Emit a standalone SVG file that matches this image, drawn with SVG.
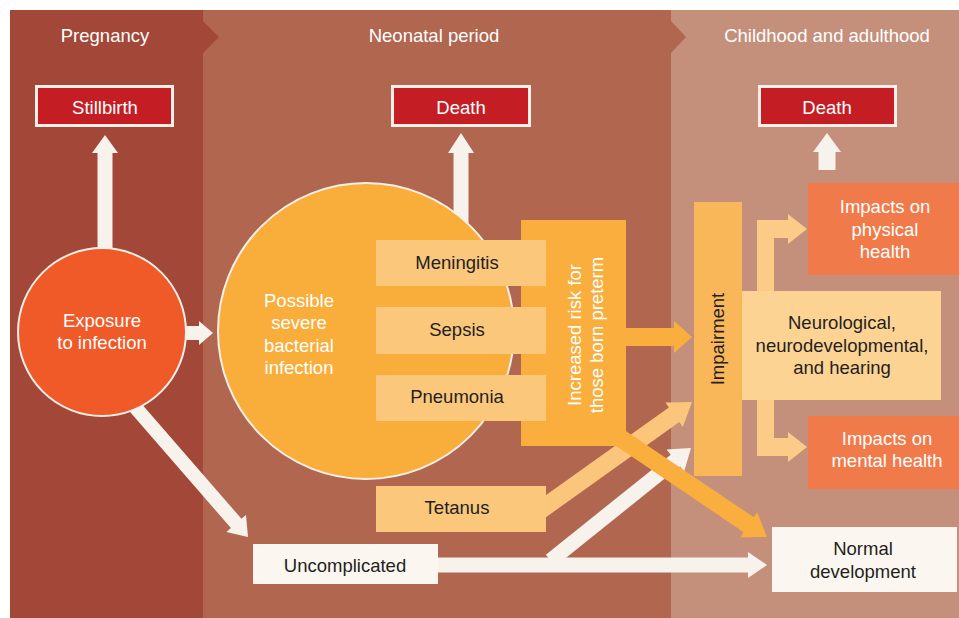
<svg xmlns="http://www.w3.org/2000/svg" width="959" height="618" viewBox="0 0 959 618">
<defs>
<style>
text{font-family:"Liberation Sans",Arial,sans-serif;font-size:18.5px;text-anchor:middle}
.hdr{fill:#FFFFFF}
.wt{fill:#FFFFFF}
.dk{fill:#231F20}
.red{fill:#C41E24;stroke:#F7EFE8;stroke-width:3}
.lbox{fill:#FBC77B}
.wbox{fill:#FBF7F0}
.imp{fill:#F07A4A}
.awhite{fill:#F8F2EC}
.aorange{fill:#F9AE3D}
.alight{fill:#FBC57C}
.abranch{fill:#FCCB87}
</style>
</defs>
<rect width="959" height="618" fill="#FFFFFF"/>
<g id="background">
<rect x="671" y="10" width="288" height="608" fill="#C5907B"/>
<polygon points="203,10 671,10 671,21 686,37 671,53 671,618 203,618" fill="#B0664F"/>
<polygon points="10,10 203,10 203,21 219,37 203,53 203,618 10,618" fill="#A34738"/>
<text class="hdr" x="105" y="42">Pregnancy</text>
<text class="hdr" x="434" y="42">Neonatal period</text>
<text class="hdr" x="827" y="42">Childhood and adulthood</text>
</g>
<g id="connectors">
<polygon class="awhite" transform="translate(248,537) rotate(49)" points="0,0 -18,-13 -18,-7 -175,-7 -175,7 -18,7 -18,13"/>
<polygon class="awhite" transform="translate(213,333)" points="0,0 -14,-12 -14,-7 -35,-7 -35,7 -14,7 -14,12"/>
<polygon class="awhite" transform="translate(105,135) rotate(-90)" points="0,0 -18,-13 -18,-7.5 -120,-7.5 -120,7.5 -18,7.5 -18,13"/>
<polygon class="awhite" transform="translate(461,133) rotate(-90)" points="0,0 -20,-13 -20,-7.5 -100,-7.5 -100,7.5 -20,7.5 -20,13"/>
<polygon class="awhite" transform="translate(827,133) rotate(-90)" points="0,0 -19,-14 -19,-8.5 -37,-8.5 -37,8.5 -19,8.5 -19,14"/>
<polygon class="awhite" transform="translate(767,565)" points="0,0 -19,-13 -19,-7.5 -335,-7.5 -335,7.5 -19,7.5 -19,13"/>
<polygon class="awhite" transform="translate(691,448) rotate(-38.7)" points="0,0 -20,-14 -20,-7.5 -180,-7.5 -180,7.5 -20,7.5 -20,14"/>
<polygon class="alight" transform="translate(692,402) rotate(-35.5)" points="0,0 -22,-15 -22,-9 -190,-9 -190,9 -22,9 -22,15"/>
<polygon class="aorange" transform="translate(692,337)" points="0,0 -18,-16 -18,-9 -80,-9 -80,9 -18,9 -18,16"/>
<polygon class="aorange" transform="translate(767,537) rotate(34)" points="0,0 -22,-15 -22,-9 -200,-9 -200,9 -22,9 -22,15"/>
<polygon class="abranch" points="757,296 757,220 788,220 788,214 807,229 788,244 788,238 774,238 774,296"/>
<polygon class="abranch" points="757,395 757,456 788,456 788,462 807,447 788,432 788,438 774,438 774,395"/>
</g>
<g id="stillbirth">
<rect class="red" x="36.5" y="86.5" width="136" height="39"/>
<text class="wt" x="105" y="114">Stillbirth</text>
</g>
<g id="death-neonatal">
<rect class="red" x="392.5" y="86.5" width="137" height="39"/>
<text class="wt" x="461" y="114">Death</text>
</g>
<g id="death-childhood">
<rect class="red" x="759.5" y="86.5" width="136" height="39"/>
<text class="wt" x="827" y="114">Death</text>
</g>
<g id="exposure">
<circle cx="102" cy="332" r="84" fill="#F05A28" stroke="#F7EFE8" stroke-width="2"/>
<text class="wt" x="102" y="327">Exposure</text>
<text class="wt" x="102" y="349">to infection</text>
</g>
<g id="bacterial-infection">
<circle cx="366" cy="331" r="148" fill="#F9AD3B" stroke="#F7EFE8" stroke-width="2"/>
<text class="wt" x="299" y="307">Possible</text>
<text class="wt" x="299" y="329">severe</text>
<text class="wt" x="299" y="352">bacterial</text>
<text class="wt" x="299" y="374">infection</text>
</g>
<g id="increased-risk">
<rect x="521" y="220" width="105" height="226" fill="#F9AE3D"/>
<g transform="translate(586,335) rotate(-90)">
<text class="wt" x="0" y="-5">Increased risk for</text>
<text class="wt" x="0" y="17">those born preterm</text>
</g>
</g>
<g id="meningitis">
<rect class="lbox" x="376" y="240" width="170" height="46"/>
<text class="dk" x="457" y="269">Meningitis</text>
</g>
<g id="sepsis">
<rect class="lbox" x="376" y="307" width="170" height="47"/>
<text class="dk" x="457" y="336">Sepsis</text>
</g>
<g id="pneumonia">
<rect class="lbox" x="376" y="375" width="170" height="46"/>
<text class="dk" x="457" y="403">Pneumonia</text>
</g>
<g id="tetanus">
<rect class="lbox" x="376" y="486" width="170" height="46"/>
<text class="dk" x="457" y="514">Tetanus</text>
</g>
<g id="uncomplicated">
<rect class="wbox" x="253" y="544" width="185" height="40"/>
<text class="dk" x="345" y="572">Uncomplicated</text>
</g>
<g id="impairment">
<rect x="694" y="202" width="48" height="274" fill="#F9B75A"/>
<text class="dk" transform="translate(718,339) rotate(-90)" x="0" y="6">Impairment</text>
</g>
<g id="neurological">
<rect x="742" y="291" width="199" height="109" fill="#FDD394"/>
<text class="dk" x="842" y="329">Neurological,</text>
<text class="dk" x="842" y="352">neurodevelopmental,</text>
<text class="dk" x="842" y="374">and hearing</text>
</g>
<g id="physical-health">
<rect class="imp" x="808" y="183" width="151" height="92"/>
<text class="wt" x="885" y="213">Impacts on</text>
<text class="wt" x="885" y="236">physical</text>
<text class="wt" x="885" y="258">health</text>
</g>
<g id="mental-health">
<rect class="imp" x="808" y="416" width="151" height="73"/>
<text class="wt" x="887" y="445">Impacts on</text>
<text class="wt" x="887" y="467">mental health</text>
</g>
<g id="normal-development">
<rect class="wbox" x="772" y="527" width="185" height="65"/>
<text class="dk" x="863" y="555">Normal</text>
<text class="dk" x="863" y="578">development</text>
</g>
</svg>
